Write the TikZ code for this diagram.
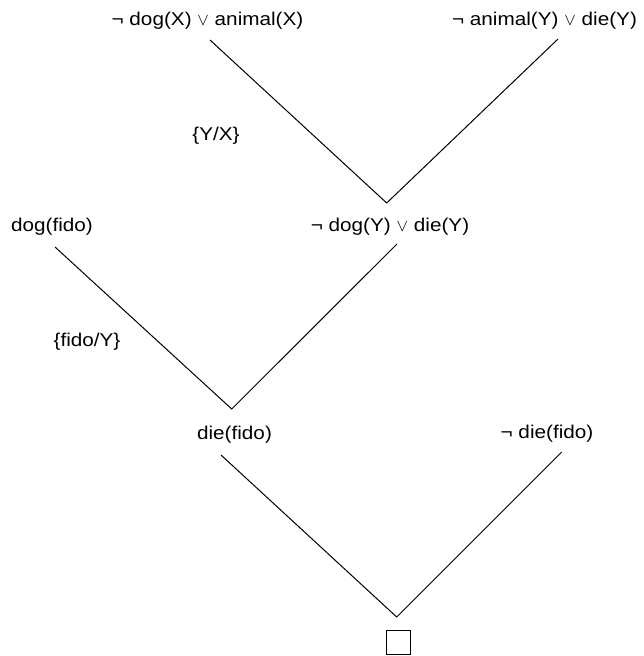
\documentclass[tikz,border=0pt]{standalone}
\usepackage{fontspec}
\setmainfont[FakeStretch=1.12]{Liberation Sans}
\begin{document}
\begin{tikzpicture}[x=1pt,y=-1pt,
  lbl/.style={inner sep=0pt, font=\fontsize{18.5}{22}\selectfont},
  edge/.style={line width=1pt, black}]
\useasboundingbox (0,0) rectangle (643,656);
% clause nodes
\node[lbl] (c1) at (207.5,21) {¬ dog(X) $\vee$ animal(X)};
\node[lbl] (c2) at (544.5,21) {¬ animal(Y) $\vee$ die(Y)};
\node[lbl] (r1) at (390,227) {¬ dog(Y) $\vee$ die(Y)};
\node[lbl] (c3) at (52,227) {dog(fido)};
\node[lbl] (r2) at (234.5,435) {die(fido)};
\node[lbl] (c4) at (547,434) {¬ die(fido)};
\node[draw, line width=1.2pt, minimum size=24pt, inner sep=0pt] (empty) at (398.5,642.5) {};
% substitutions
\node[lbl] (s1) at (216,136) {\{Y/X\}};
\node[lbl] (s2) at (87,342) {\{fido/Y\}};
% connector points
\coordinate (c1b) at (210,40);
\coordinate (c2b) at (558,39);
\coordinate (ap1) at (386.7,203);
\coordinate (c3b) at (55,247);
\coordinate (r1b) at (397,244);
\coordinate (ap2) at (231.7,409);
\coordinate (r2b) at (221,455);
\coordinate (c4b) at (561.7,452);
\coordinate (ap3) at (396.7,617);
\draw[edge] (c1b) -- (ap1) -- (c2b);
\draw[edge] (c3b) -- (ap2) -- (r1b);
\draw[edge] (r2b) -- (ap3) -- (c4b);
\end{tikzpicture}
\end{document}
